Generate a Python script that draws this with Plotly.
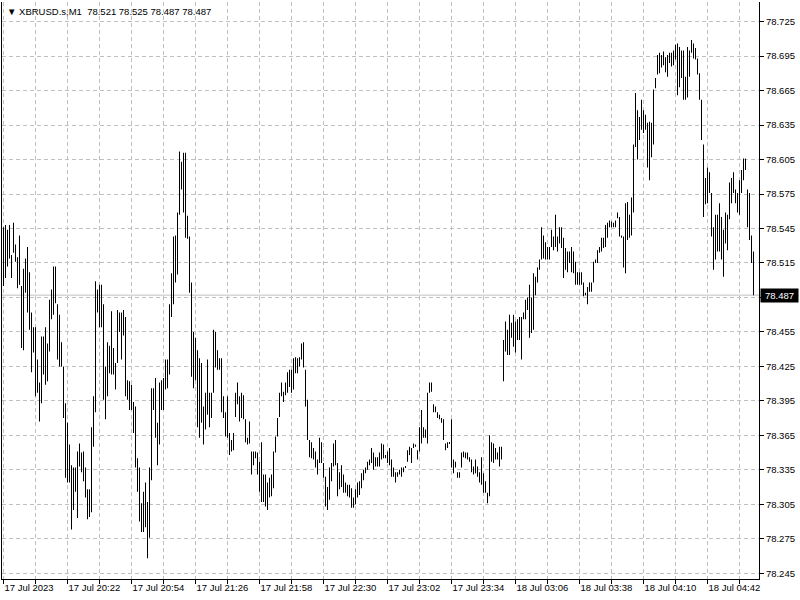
import plotly.graph_objects as go

symbol = "XBRUSD.s,M1"
last_ohlc = [78.521, 78.525, 78.487, 78.487]

highs = [
    78.546, 78.548, 78.544, 78.548, 78.522, 78.550, 78.531, 78.520, 78.539, 78.495,
    78.510, 78.519, 78.529, 78.507, 78.472, 78.459, 78.459, 78.431, 78.411, 78.451,
    78.451, 78.459, 78.445, 78.483, 78.492, 78.512, 78.512, 78.479, 78.470, 78.446,
    78.425, 78.393, 78.376, 78.357, 78.339, 78.337, 78.337, 78.351, 78.358, 78.350,
    78.351, 78.337, 78.318, 78.318, 78.372, 78.399, 78.499, 78.492, 78.496, 78.496,
    78.479, 78.425, 78.446, 78.443, 78.473, 78.441, 78.428, 78.474, 78.472, 78.472,
    78.474, 78.468, 78.413, 78.412, 78.409, 78.394, 78.390, 78.345, 78.337, 78.306,
    78.316, 78.324, 78.307, 78.337, 78.406, 78.406, 78.415, 78.376, 78.411, 78.413,
    78.415, 78.431, 78.431, 78.479, 78.506, 78.538, 78.539, 78.559, 78.612, 78.603,
    78.611, 78.611, 78.556, 78.538, 78.498, 78.455, 78.450, 78.439, 78.432, 78.428,
    78.390, 78.402, 78.431, 78.402, 78.402, 78.457, 78.455, 78.439, 78.432, 78.432,
    78.399, 78.385, 78.399, 78.367, 78.361, 78.367, 78.402, 78.411, 78.399, 78.402,
    78.400, 78.379, 78.363, 78.377, 78.351, 78.351, 78.351, 78.350, 78.342, 78.359,
    78.331, 78.331, 78.324, 78.328, 78.331, 78.351, 78.364, 78.380, 78.402, 78.411,
    78.403, 78.411, 78.420, 78.422, 78.422, 78.432, 78.433, 78.432, 78.433, 78.445,
    78.446, 78.422, 78.396, 78.361, 78.359, 78.354, 78.351, 78.344, 78.363, 78.359,
    78.341, 78.329, 78.320, 78.337, 78.341, 78.358, 78.361, 78.341, 78.333, 78.339,
    78.331, 78.324, 78.322, 78.322, 78.319, 78.311, 78.318, 78.324, 78.325, 78.332,
    78.335, 78.337, 78.342, 78.344, 78.354, 78.350, 78.346, 78.346, 78.350, 78.358,
    78.357, 78.348, 78.351, 78.354, 78.344, 78.337, 78.333, 78.333, 78.335, 78.337,
    78.337, 78.338, 78.352, 78.355, 78.354, 78.358, 78.357, 78.352, 78.372, 78.387,
    78.372, 78.370, 78.402, 78.411, 78.411, 78.392, 78.390, 78.385, 78.383, 78.380,
    78.379, 78.358, 78.359, 78.359, 78.379, 78.344, 78.342, 78.333, 78.333, 78.350,
    78.351, 78.350, 78.350, 78.346, 78.344, 78.338, 78.344, 78.338, 78.333, 78.346,
    78.332, 78.325, 78.315, 78.365, 78.359, 78.358, 78.354, 78.350, 78.355, 78.355,
    78.448, 78.464, 78.457, 78.470, 78.463, 78.470, 78.464, 78.466, 78.468, 78.468,
    78.472, 78.483, 78.485, 78.496, 78.485, 78.506, 78.503, 78.511, 78.518, 78.546,
    78.539, 78.533, 78.529, 78.529, 78.544, 78.538, 78.557, 78.538, 78.546, 78.546,
    78.537, 78.528, 78.525, 78.525, 78.529, 78.525, 78.516, 78.507, 78.507, 78.507,
    78.498, 78.489, 78.494, 78.498, 78.498, 78.516, 78.518, 78.526, 78.529, 78.537,
    78.537, 78.548, 78.550, 78.552, 78.551, 78.550, 78.552, 78.559, 78.555, 78.539,
    78.538, 78.567, 78.568, 78.557, 78.572, 78.618, 78.663, 78.648, 78.642, 78.657,
    78.648, 78.644, 78.637, 78.638, 78.637, 78.666, 78.676, 78.696, 78.698, 78.696,
    78.699, 78.694, 78.696, 78.698, 78.698, 78.700, 78.705, 78.706, 78.703, 78.700,
    78.700, 78.677, 78.703, 78.700, 78.709, 78.706, 78.702, 78.693, 78.680, 78.657,
    78.618, 78.589, 78.598, 78.594, 78.576, 78.546, 78.557, 78.557, 78.567, 78.555,
    78.544, 78.559, 78.557, 78.585, 78.589, 78.594, 78.579, 78.576, 78.587, 78.596,
    78.606, 78.606, 78.579, 78.576, 78.539, 78.525,
]

lows = [
    78.495, 78.502, 78.512, 78.519, 78.502, 78.524, 78.516, 78.493, 78.496, 78.441,
    78.439, 78.489, 78.472, 78.457, 78.420, 78.437, 78.399, 78.402, 78.377, 78.393,
    78.418, 78.409, 78.412, 78.438, 78.466, 78.470, 78.480, 78.431, 78.425, 78.425,
    78.380, 78.328, 78.324, 78.324, 78.283, 78.300, 78.316, 78.293, 78.338, 78.333,
    78.325, 78.311, 78.292, 78.294, 78.298, 78.355, 78.385, 78.472, 78.459, 78.459,
    78.396, 78.379, 78.399, 78.419, 78.418, 78.418, 78.405, 78.428, 78.455, 78.431,
    78.452, 78.399, 78.396, 78.387, 78.387, 78.367, 78.337, 78.316, 78.290, 78.281,
    78.281, 78.285, 78.258, 78.276, 78.326, 78.387, 78.363, 78.339, 78.357, 78.387,
    78.387, 78.405, 78.406, 78.418, 78.468, 78.479, 78.498, 78.505, 78.557, 78.579,
    78.559, 78.537, 78.536, 78.489, 78.416, 78.406, 78.413, 78.372, 78.363, 78.376,
    78.357, 78.370, 78.383, 78.372, 78.380, 78.402, 78.424, 78.422, 78.422, 78.385,
    78.380, 78.364, 78.363, 78.348, 78.351, 78.352, 78.381, 78.392, 78.377, 78.380,
    78.379, 78.359, 78.357, 78.358, 78.331, 78.339, 78.345, 78.331, 78.316, 78.307,
    78.307, 78.303, 78.300, 78.311, 78.312, 78.319, 78.350, 78.364, 78.381, 78.399,
    78.394, 78.400, 78.402, 78.407, 78.402, 78.405, 78.419, 78.419, 78.425, 78.431,
    78.424, 78.390, 78.361, 78.346, 78.345, 78.344, 78.337, 78.331, 78.341, 78.341,
    78.328, 78.303, 78.300, 78.309, 78.325, 78.338, 78.339, 78.312, 78.318, 78.320,
    78.315, 78.315, 78.312, 78.311, 78.302, 78.302, 78.305, 78.311, 78.313, 78.319,
    78.326, 78.332, 78.335, 78.339, 78.341, 78.335, 78.338, 78.338, 78.338, 78.344,
    78.345, 78.345, 78.341, 78.339, 78.329, 78.329, 78.324, 78.329, 78.331, 78.329,
    78.333, 78.337, 78.342, 78.348, 78.341, 78.354, 78.355, 78.344, 78.351, 78.358,
    78.363, 78.363, 78.358, 78.402, 78.403, 78.385, 78.385, 78.380, 78.379, 78.376,
    78.361, 78.352, 78.354, 78.358, 78.337, 78.332, 78.337, 78.328, 78.328, 78.337,
    78.346, 78.345, 78.344, 78.342, 78.333, 78.331, 78.332, 78.329, 78.324, 78.322,
    78.315, 78.315, 78.306, 78.312, 78.342, 78.341, 78.344, 78.344, 78.338, 78.344,
    78.412, 78.438, 78.435, 78.435, 78.450, 78.442, 78.437, 78.448, 78.448, 78.431,
    78.466, 78.466, 78.474, 78.450, 78.454, 78.457, 78.487, 78.498, 78.509, 78.518,
    78.519, 78.518, 78.518, 78.518, 78.529, 78.526, 78.529, 78.525, 78.532, 78.528,
    78.502, 78.509, 78.507, 78.515, 78.507, 78.506, 78.496, 78.496, 78.496, 78.496,
    78.486, 78.487, 78.479, 78.490, 78.490, 78.498, 78.515, 78.515, 78.524, 78.525,
    78.528, 78.529, 78.537, 78.546, 78.546, 78.546, 78.546, 78.554, 78.538, 78.537,
    78.511, 78.506, 78.535, 78.537, 78.539, 78.559, 78.616, 78.605, 78.622, 78.631,
    78.628, 78.631, 78.598, 78.587, 78.607, 78.618, 78.667, 78.679, 78.680, 78.685,
    78.687, 78.681, 78.677, 78.689, 78.686, 78.687, 78.692, 78.661, 78.668, 78.676,
    78.657, 78.657, 78.659, 78.677, 78.698, 78.693, 78.692, 78.679, 78.657, 78.622,
    78.555, 78.566, 78.567, 78.576, 78.538, 78.509, 78.518, 78.525, 78.525, 78.518,
    78.503, 78.532, 78.526, 78.553, 78.567, 78.576, 78.567, 78.559, 78.557, 78.576,
    78.587, 78.596, 78.546, 78.535, 78.515, 78.487,
]

x_labels = ["17 Jul 2023", "17 Jul 20:22", "17 Jul 20:54", "17 Jul 21:26",
            "17 Jul 21:58", "17 Jul 22:30", "17 Jul 23:02", "17 Jul 23:34",
            "18 Jul 03:06", "18 Jul 03:38", "18 Jul 04:10", "18 Jul 04:42"]
y_ticks = [78.245, 78.275, 78.305, 78.335, 78.365, 78.395, 78.425, 78.455, 78.485,
           78.515, 78.545, 78.575, 78.605, 78.635, 78.665, 78.695, 78.725]

n = min(len(highs), len(lows))
idx = list(range(n))
spans = [highs[i] - lows[i] for i in idx]

label_step = 32
grid_step = 16
x_tickvals = list(range(0, n + 1, grid_step))
x_ticktext = [x_labels[v // label_step] if v % label_step == 0 and v // label_step < len(x_labels) else ""
              for v in x_tickvals]

close = last_ohlc[3]
# the price label box covers the tick label that lies closest to the last close
y_ticktext = ["" if abs(v - close) < 0.01 else f"{v:.3f}" for v in y_ticks]

FONT = "Liberation Sans, Arial, DejaVu Sans, sans-serif"
GRID = "#c0c0c0"

fig = go.Figure()
fig.add_trace(go.Bar(
    x=idx, y=spans, base=lows[:n], width=0.5,
    marker=dict(color="black", line=dict(width=0)),
    hoverinfo="skip",
))

fig.add_shape(type="line", xref="paper", x0=0, x1=1, yref="y", y0=close, y1=close,
              line=dict(color=GRID, width=1), layer="below")

fig.add_annotation(xref="paper", x=1, xanchor="left", xshift=1, yref="y", y=close,
                   text=f"{close:.3f}", showarrow=False, bgcolor="black",
                   font=dict(color="white", size=9.5, family=FONT),
                   width=37, height=13, borderpad=0)

title_text = "\u25BC\u00a0" + symbol + "\u00a0\u00a0" + " ".join(f"{v:.3f}" for v in last_ohlc)
fig.add_annotation(xref="paper", x=0, xanchor="left", xshift=3, yref="paper", y=1,
                   yanchor="top", yshift=-2, text=title_text, showarrow=False,
                   font=dict(color="black", size=9.5, family=FONT))

fig.update_layout(
    width=800, height=600,
    margin=dict(l=2, r=41, t=2, b=21, pad=0),
    paper_bgcolor="white", plot_bgcolor="white",
    showlegend=False,
    font=dict(family=FONT, size=9.5, color="black"),
    xaxis=dict(
        range=[-0.75, 377.75], tickvals=x_tickvals, ticktext=x_ticktext,
        showgrid=True, gridcolor=GRID, gridwidth=1, griddash="4px,3px",
        showline=True, linecolor="black", linewidth=1, mirror=False,
        ticks="outside", ticklen=4, tickcolor="black",
        ticklabelposition="outside right", zeroline=False, fixedrange=True,
    ),
    yaxis=dict(
        side="right", range=[78.2400, 78.7421], tickvals=y_ticks,
        ticktext=y_ticktext,
        showgrid=True, gridcolor=GRID, gridwidth=1, griddash="4px,3px",
        showline=True, linecolor="black", linewidth=1, mirror=True,
        ticks="outside", ticklen=4, tickcolor="black",
        zeroline=False, fixedrange=True,
    ),
)

fig.write_html("out.html", config={"displayModeBar": False},
               post_script="document.body.style.margin='0px';")
